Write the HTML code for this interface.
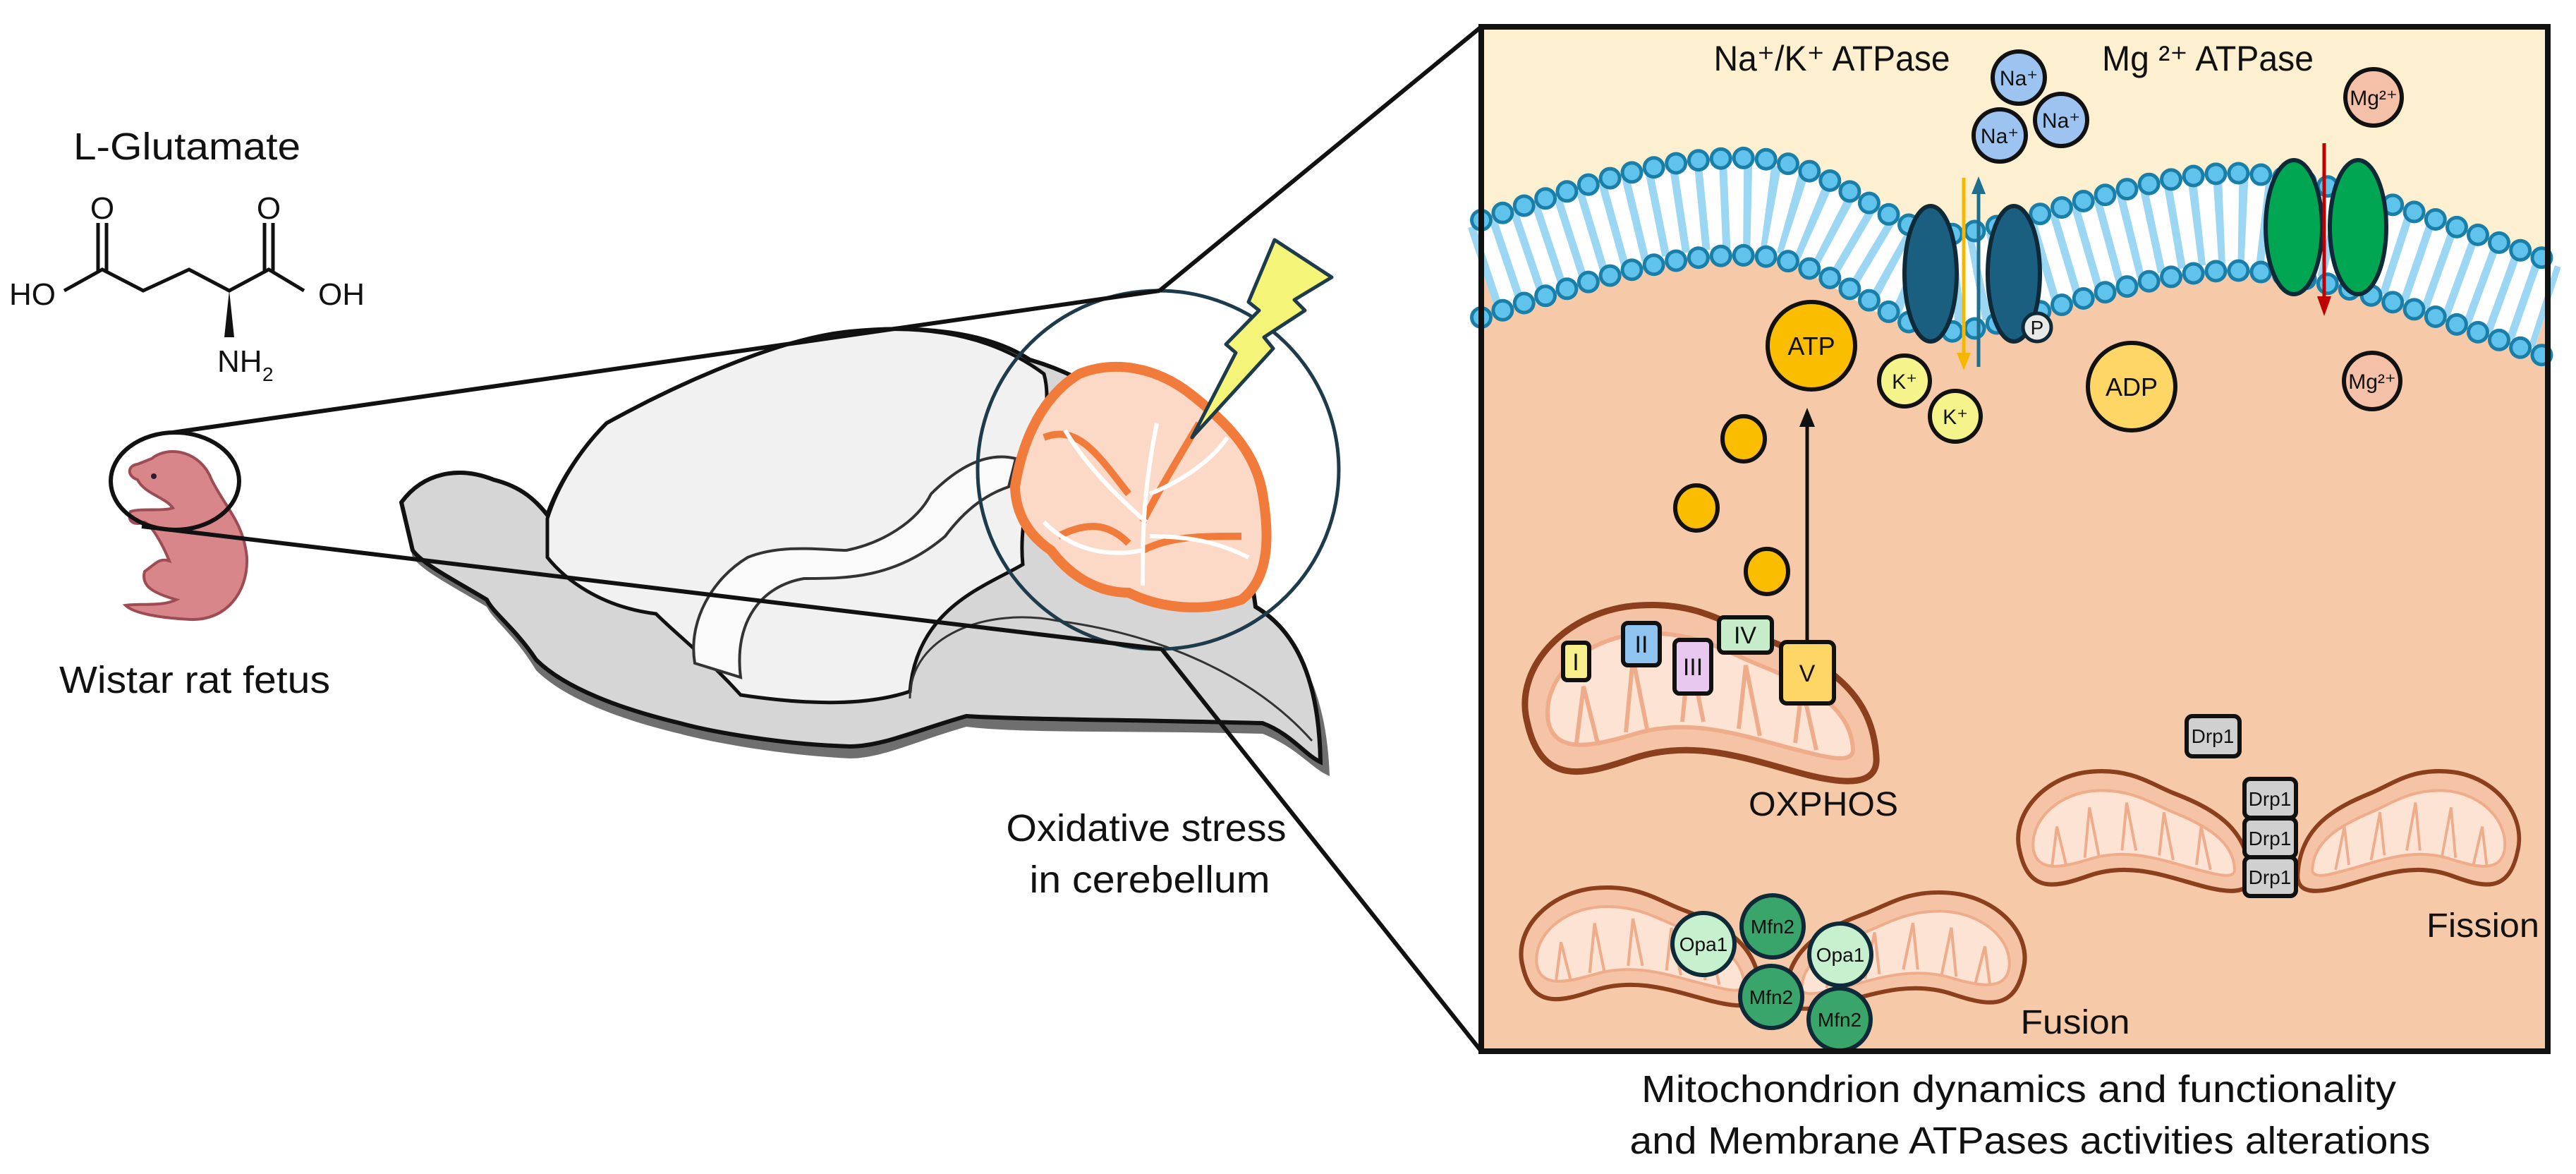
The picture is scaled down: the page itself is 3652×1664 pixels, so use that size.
<!DOCTYPE html>
<html><head><meta charset="utf-8"><style>
html,body{margin:0;padding:0;background:#fff}
svg{display:block}
text{font-family:"Liberation Sans",Arial,sans-serif;fill:#111}
</style></head><body>
<svg width="3652" height="1664" viewBox="0 0 3652 1664" xmlns="http://www.w3.org/2000/svg">
<defs>
<g id="kid">
<path d="M 20 170 C 0 90, 80 10, 180 5 C 260 0, 300 30, 350 50 C 430 80, 510 120, 515 220 C 518 262, 470 258, 420 246 C 340 226, 260 192, 170 222 C 100 246, 40 262, 20 170 Z" fill="#f5c3a5" stroke="#8b3f1c" stroke-width="9"/>
<path d="M 50 170 C 40 110, 100 50, 185 45 C 260 42, 300 70, 350 90 C 420 118, 480 150, 482 210 C 482 228, 450 222, 420 214 C 340 196, 260 160, 170 188 C 110 206, 60 215, 50 170 Z" fill="#fde3d4" stroke="#efac8a" stroke-width="6"/>
<path d="M 90 200 L 100 120 L 120 200 M 160 185 L 170 80 L 190 180 M 240 170 L 250 70 L 270 170 M 320 180 L 330 90 L 350 190 M 400 200 L 410 120 L 430 210" fill="none" stroke="#efac8a" stroke-width="6"/>
</g>
</defs>

<!-- LEFT: glutamate -->
<text x="265" y="226" font-size="54" text-anchor="middle" textLength="322" lengthAdjust="spacingAndGlyphs">L-Glutamate</text>
<g stroke="#111" stroke-width="5" fill="none">
<polyline points="91,412 145,382 203,412 268,382 325,412 381,382 431,412"/>
<line x1="139" y1="384" x2="139" y2="316"/><line x1="151" y1="384" x2="151" y2="316"/>
<line x1="375" y1="384" x2="375" y2="316"/><line x1="387" y1="384" x2="387" y2="316"/>
</g>
<polygon points="325,412 318,478 332,478" fill="#111"/>
<text x="145" y="310" font-size="44" text-anchor="middle">O</text>
<text x="381" y="310" font-size="44" text-anchor="middle">O</text>
<text x="13" y="432" font-size="44">HO</text>
<text x="451" y="432" font-size="44">OH</text>
<text x="308" y="527" font-size="44">NH</text>
<text x="372" y="540" font-size="28">2</text>

<!-- rat fetus -->
<path d="M215 650 C 240 630, 285 640, 300 680 C 320 720, 345 740, 350 790 C 352 840, 320 880, 270 878 C 230 876, 190 870, 178 858 C 200 855, 230 860, 250 850 C 215 840, 200 830, 205 810 C 220 800, 225 790, 240 795 C 230 770, 215 745, 205 740 C 190 745, 180 740, 185 725 C 200 720, 230 725, 245 720 C 235 705, 205 700, 195 680 C 180 675, 180 660, 195 658 Z" fill="#d8868a" stroke="#9c4c52" stroke-width="4"/>
<circle cx="218" cy="675" r="4" fill="#223"/>
<ellipse cx="248" cy="682" rx="91" ry="69" fill="none" stroke="#111" stroke-width="6"/>
<text x="276" y="982" font-size="54" text-anchor="middle" textLength="384" lengthAdjust="spacingAndGlyphs">Wistar rat fetus</text>

<!-- brain -->
<path d="M569 722 C 600 680, 650 670, 700 690 C 740 700, 760 720, 776 740 C 790 700, 820 650, 860 610 C 950 560, 1100 490, 1205 480 C 1300 470, 1400 480, 1460 520 C 1600 560, 1760 700, 1780 870 C 1830 900, 1880 960, 1885 1100 C 1860 1090, 1840 1060, 1790 1040 C 1600 1035, 1450 1040, 1370 1030 C 1300 1050, 1250 1075, 1205 1075 C 1100 1070, 1000 1050, 964 1040 C 880 1020, 800 990, 760 950 C 730 900, 700 880, 690 860 C 640 830, 600 810, 585 790 Z" fill="#6f6f6f"/>
<path d="M569 712 C 600 670, 650 660, 700 680 C 740 690, 760 710, 776 730 C 790 690, 820 640, 860 600 C 950 550, 1100 480, 1205 470 C 1300 460, 1400 470, 1460 510 C 1600 550, 1760 690, 1780 860 C 1830 890, 1870 950, 1872 1080 C 1850 1070, 1830 1040, 1790 1025 C 1600 1020, 1450 1020, 1370 1015 C 1300 1035, 1250 1058, 1205 1058 C 1100 1055, 1000 1035, 964 1025 C 880 1005, 800 975, 760 935 C 730 890, 700 870, 690 850 C 640 820, 600 800, 585 780 Z" fill="#d6d6d6" stroke="#111" stroke-width="6"/>
<path d="M776 735 C 790 690, 820 640, 860 600 C 950 550, 1100 480, 1205 470 C 1300 460, 1400 470, 1480 530 C 1500 600, 1440 700, 1450 800 C 1400 830, 1300 860, 1290 980 C 1230 1000, 1150 1000, 1050 985 C 1000 930, 960 900, 930 870 C 850 860, 800 820, 776 790 Z" fill="#f1f1f1" stroke="#111" stroke-width="5"/>
<path d="M1290 990 C 1290 900, 1400 860, 1500 880 C 1650 900, 1780 960, 1860 1050" fill="none" stroke="#333" stroke-width="3"/>
<path d="M985 940 C 975 880, 1010 820, 1060 790 C 1110 770, 1170 780, 1200 780 C 1250 770, 1300 740, 1320 700 C 1360 660, 1400 640, 1440 650 L 1430 690 C 1400 700, 1370 720, 1340 760 C 1270 820, 1200 820, 1140 820 C 1080 830, 1040 880, 1050 960 Z" fill="#fafafa" stroke="#333" stroke-width="4"/>
<!-- cerebellum -->
<path d="M1439 690 C 1450 620, 1480 560, 1530 530 C 1580 510, 1640 520, 1690 560 C 1740 600, 1780 640, 1790 700 C 1800 760, 1800 820, 1760 850 C 1700 870, 1640 860, 1600 840 C 1560 840, 1520 820, 1490 780 C 1460 760, 1440 730, 1439 690 Z" fill="#fbd9c6" stroke="#f07b3a" stroke-width="14"/>
<g fill="none" stroke="#f07b3a" stroke-width="10">
<path d="M1480 620 C 1530 600, 1560 650, 1600 700"/><path d="M1700 600 C 1670 650, 1640 700, 1620 740"/><path d="M1760 760 C 1700 760, 1660 760, 1620 780"/><path d="M1500 760 C 1540 740, 1570 740, 1600 770"/>
</g>
<g fill="none" stroke="#fff" stroke-width="6">
<path d="M1620 830 C 1620 760, 1620 700, 1640 600"/><path d="M1625 740 C 1580 700, 1540 660, 1510 610"/><path d="M1630 700 C 1680 680, 1720 650, 1740 620"/><path d="M1630 760 C 1690 760, 1730 770, 1770 790"/><path d="M1620 780 C 1570 790, 1520 780, 1480 740"/>
</g>
<ellipse cx="1642" cy="666" rx="256" ry="254" fill="none" stroke="#1d3b4a" stroke-width="5"/>
<polygon points="1807,340 1888,393 1835,425 1850,440 1792,478 1805,494 1690,620 1752,500 1738,488 1785,440 1770,428" fill="#f5f57a" stroke="#1d3b4a" stroke-width="5" stroke-linejoin="round"/>
<text x="1625" y="1192" font-size="54" text-anchor="middle" textLength="397" lengthAdjust="spacingAndGlyphs">Oxidative stress</text>
<text x="1630" y="1265" font-size="54" text-anchor="middle" textLength="341" lengthAdjust="spacingAndGlyphs">in cerebellum</text>

<!-- zoom lines -->
<g stroke="#111" stroke-width="6">
<line x1="245" y1="613" x2="1644" y2="412"/>
<line x1="201" y1="746" x2="1647" y2="920"/>
<line x1="1644" y1="412" x2="2100" y2="38"/>
<line x1="1647" y1="920" x2="2100" y2="1490"/>
</g>

<!-- RIGHT PANEL -->
<rect x="2100" y="38" width="1512" height="1452" fill="#f6caa9"/>
<path d="M2100 38 H3612 V436 C 3500 400, 3350 330, 3200 315 C 3050 300, 2850 400, 2760 400 C 2680 400, 2600 294, 2480 292 C 2350 290, 2250 330, 2100 380 Z" fill="#fdf0d0"/>
<!-- membrane -->
<g fill="none">
<path id="mc" d="M2100 380 C 2250 330, 2350 290, 2480 292 C 2600 294, 2680 400, 2760 400 C 2850 400, 3050 300, 3200 315 C 3350 330, 3500 400, 3612 436" stroke="#fff" stroke-width="140"/>
<path d="M2100 380 C 2250 330, 2350 290, 2480 292 C 2600 294, 2680 400, 2760 400 C 2850 400, 3050 300, 3200 315 C 3350 330, 3500 400, 3612 436" stroke="#9bd7f3" stroke-width="120" stroke-dasharray="11 21"/>
<g transform="translate(0,-68)">
<path d="M2100 380 C 2250 330, 2350 290, 2480 292 C 2600 294, 2680 400, 2760 400 C 2850 400, 3050 300, 3200 315 C 3350 330, 3500 400, 3612 436" stroke="#1a7fa8" stroke-width="32" stroke-dasharray="0 32" stroke-linecap="round"/>
<path d="M2100 380 C 2250 330, 2350 290, 2480 292 C 2600 294, 2680 400, 2760 400 C 2850 400, 3050 300, 3200 315 C 3350 330, 3500 400, 3612 436" stroke="#5fc3ec" stroke-width="22" stroke-dasharray="0 32" stroke-linecap="round"/>
</g>
<g transform="translate(0,70)">
<path d="M2100 380 C 2250 330, 2350 290, 2480 292 C 2600 294, 2680 400, 2760 400 C 2850 400, 3050 300, 3200 315 C 3350 330, 3500 400, 3612 436" stroke="#1a7fa8" stroke-width="32" stroke-dasharray="0 32" stroke-linecap="round"/>
<path d="M2100 380 C 2250 330, 2350 290, 2480 292 C 2600 294, 2680 400, 2760 400 C 2850 400, 3050 300, 3200 315 C 3350 330, 3500 400, 3612 436" stroke="#5fc3ec" stroke-width="22" stroke-dasharray="0 32" stroke-linecap="round"/>
</g>
</g>
<!-- Na/K pump -->
<ellipse cx="2737" cy="388" rx="37" ry="96" fill="#1a5e80" stroke="#0e2a38" stroke-width="6"/>
<ellipse cx="2855" cy="388" rx="37" ry="96" fill="#1a5e80" stroke="#0e2a38" stroke-width="6"/>
<line x1="2784" y1="252" x2="2784" y2="505" stroke="#f5b800" stroke-width="5"/>
<polygon points="2774,500 2794,500 2784,525" fill="#f5b800"/>
<line x1="2805" y1="520" x2="2805" y2="270" stroke="#1f6e8c" stroke-width="5"/>
<polygon points="2795,275 2815,275 2805,250" fill="#1f6e8c"/>
<circle cx="2888" cy="464" r="20" fill="#e8e8e8" stroke="#0e2a38" stroke-width="5"/>
<text x="2888" y="474" font-size="28" text-anchor="middle">P</text>
<!-- Mg pump -->
<ellipse cx="3252" cy="322" rx="40" ry="95" fill="#00a651" stroke="#0e2a38" stroke-width="6"/>
<ellipse cx="3343" cy="322" rx="40" ry="95" fill="#00a651" stroke="#0e2a38" stroke-width="6"/>
<line x1="3295" y1="203" x2="3295" y2="425" stroke="#c00000" stroke-width="5"/>
<polygon points="3285,420 3305,420 3295,448" fill="#c00000"/>

<text x="2597" y="100" font-size="50" text-anchor="middle" textLength="335" lengthAdjust="spacingAndGlyphs">Na⁺/K⁺ ATPase</text>
<text x="3130" y="100" font-size="50" text-anchor="middle" textLength="300" lengthAdjust="spacingAndGlyphs">Mg ²⁺ ATPase</text>

<g stroke="#111" stroke-width="6">
<circle cx="2862" cy="110" r="37" fill="#9dc3f0"/>
<circle cx="2922" cy="170" r="37" fill="#9dc3f0"/>
<circle cx="2835" cy="192" r="37" fill="#9dc3f0"/>
<circle cx="3365" cy="138" r="40" fill="#f4c0a8"/>
<circle cx="3363" cy="540" r="40" fill="#f4c0a8"/>
<circle cx="2568" cy="490" r="62" fill="#fbbd00"/>
<circle cx="2700" cy="540" r="36" fill="#f4f48a"/>
<circle cx="2772" cy="590" r="36" fill="#f4f48a"/>
<circle cx="3022" cy="548" r="62" fill="#fdd665"/>
<ellipse cx="2472" cy="622" rx="30" ry="32" fill="#fbbd00"/>
<ellipse cx="2405" cy="720" rx="30" ry="32" fill="#fbbd00"/>
<ellipse cx="2505" cy="810" rx="30" ry="32" fill="#fbbd00"/>
</g>
<g font-size="30" text-anchor="middle">
<text x="2862" y="121">Na⁺</text><text x="2922" y="181">Na⁺</text><text x="2835" y="203">Na⁺</text>
<text x="3365" y="149">Mg²⁺</text><text x="3363" y="551">Mg²⁺</text>
<text x="2700" y="551">K⁺</text><text x="2772" y="601">K⁺</text>
</g>
<text x="2568" y="503" font-size="36" text-anchor="middle">ATP</text>
<text x="3022" y="561" font-size="36" text-anchor="middle">ADP</text>
<line x1="2562" y1="905" x2="2562" y2="600" stroke="#111" stroke-width="5"/>
<polygon points="2551,605 2573,605 2562,578" fill="#111"/>

<!-- OXPHOS mito -->
<use href="#kid" transform="translate(2145,853) scale(1,1)"/>
<g stroke="#111" stroke-width="6">
<rect x="2216" y="911" width="37" height="53" rx="6" fill="#f7f08a"/>
<rect x="2301" y="883" width="52" height="60" rx="7" fill="#8fc3f0"/>
<rect x="2374" y="907" width="52" height="76" rx="7" fill="#e8c8ee"/>
<rect x="2437" y="875" width="75" height="50" rx="7" fill="#c7ecc9"/>
</g>
<line x1="2562" y1="905" x2="2562" y2="912" stroke="#111" stroke-width="5"/>
<rect x="2525" y="910" width="75" height="87" rx="8" fill="#fdd665" stroke="#111" stroke-width="6"/>
<g font-size="34" text-anchor="middle">
<text x="2234" y="950">I</text><text x="2327" y="925">II</text><text x="2400" y="957">III</text><text x="2474" y="912">IV</text><text x="2562" y="966">V</text>
</g>
<text x="2585" y="1156" font-size="48" text-anchor="middle" textLength="212" lengthAdjust="spacingAndGlyphs">OXPHOS</text>

<!-- Fission -->
<use href="#kid" transform="translate(2850,1090) scale(0.66,0.68)"/>
<use href="#kid" transform="translate(3582,1090) scale(-0.63,0.68)"/>
<g stroke="#111" stroke-width="6" fill="#d0d0d0">
<rect x="3100" y="1015" width="75" height="57" rx="8"/>
<rect x="3182" y="1104" width="73" height="55" rx="8"/>
<rect x="3182" y="1160" width="73" height="55" rx="8"/>
<rect x="3182" y="1215" width="73" height="55" rx="8"/>
</g>
<g font-size="28" text-anchor="middle">
<text x="3137" y="1053">Drp1</text><text x="3218" y="1142">Drp1</text><text x="3218" y="1198">Drp1</text><text x="3218" y="1253">Drp1</text>
</g>
<text x="3520" y="1328" font-size="48" text-anchor="middle" textLength="160" lengthAdjust="spacingAndGlyphs">Fission</text>

<!-- Fusion -->
<use href="#kid" transform="translate(2145,1255) scale(0.68,0.67)"/>
<use href="#kid" transform="translate(2882,1262) scale(-0.68,0.66)"/>
<g stroke="#0e2a38" stroke-width="6">
<circle cx="2415" cy="1338" r="44" fill="#c7f0cf"/>
<circle cx="2609" cy="1353" r="44" fill="#c7f0cf"/>
<circle cx="2513" cy="1313" r="44" fill="#3aa56a"/>
<circle cx="2511" cy="1413" r="44" fill="#3aa56a"/>
<circle cx="2608" cy="1445" r="44" fill="#3aa56a"/>
</g>
<g font-size="28" text-anchor="middle">
<text x="2415" y="1348">Opa1</text><text x="2609" y="1363">Opa1</text>
<text x="2513" y="1323">Mfn2</text><text x="2511" y="1423">Mfn2</text><text x="2608" y="1455">Mfn2</text>
</g>
<text x="2942" y="1465" font-size="48" text-anchor="middle" textLength="155" lengthAdjust="spacingAndGlyphs">Fusion</text>

<rect x="2100" y="38" width="1512" height="1452" fill="none" stroke="#111" stroke-width="8"/>

<text x="2862" y="1562" font-size="54" text-anchor="middle" textLength="1070" lengthAdjust="spacingAndGlyphs">Mitochondrion dynamics and functionality</text>
<text x="2878" y="1635" font-size="54" text-anchor="middle" textLength="1135" lengthAdjust="spacingAndGlyphs">and Membrane ATPases activities alterations</text>
</svg>
</body></html>
